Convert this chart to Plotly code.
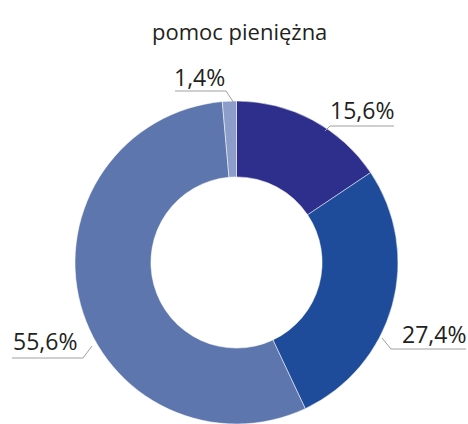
import plotly.graph_objects as go

categories = ["A", "B", "C", "D"]
values = [15.6, 27.4, 55.6, 1.4]
value_labels = ["15,6%", "27,4%", "55,6%", "1,4%"]
colors = ["#2E2E8C", "#1F4C9A", "#5E76AE", "#8B9DC8"]
title_text = "pomoc pieniężna"

W, H = 468, 424
cx, cy, R = 236.5, 262.5, 161.5

def px(x):
    return x / W

def py(y):
    return min(1.0, max(0.0, 1 - y / H))

fig = go.Figure(go.Pie(
    labels=categories, values=values, sort=False, direction="clockwise",
    rotation=0, hole=0.53, textinfo="none", hoverinfo="label+percent",
    marker=dict(colors=colors, line=dict(color="white", width=0.5)),
    domain=dict(x=[px(cx - R), px(cx + R)], y=[py(cy + R), py(cy - R)]),
))

# label layout: (text center x, text center y, underline x0, underline x1, underline y, leader end x, leader end y, leader start side)
label_layout = [
    (362, 110, 330, 394, 126, 325, 131, "left"),
    (434, 334, 391, 466, 349, 382, 338, "left"),
    (45, 341, 12, 83, 358, 92, 346, "right"),
    (199, 77, 175, 226, 91, 234, 103, "right"),
]

annotations = []
shapes = []
for txt, (tx, ty, ux0, ux1, uy, lx, ly, side) in zip(value_labels, label_layout):
    annotations.append(dict(
        x=px(tx), y=py(ty), xref="paper", yref="paper", text=txt, showarrow=False,
        font=dict(family="Open Sans", size=23, color="#231F20"),
        xanchor="center", yanchor="middle"))
    shapes.append(dict(type="line", xref="paper", yref="paper",
                       x0=px(ux0), x1=px(ux1), y0=py(uy), y1=py(uy),
                       line=dict(color="#A0A0A0", width=1)))
    sx = ux0 if side == "left" else ux1
    shapes.append(dict(type="line", xref="paper", yref="paper",
                       x0=px(sx), x1=px(lx), y0=py(uy), y1=py(ly),
                       line=dict(color="#A0A0A0", width=1)))

annotations.append(dict(
    x=px(240), y=py(31), xref="paper", yref="paper", text=title_text, showarrow=False,
    font=dict(family="Open Sans", size=22, color="#231F20"),
    xanchor="center", yanchor="middle"))

fig.update_layout(
    width=W, height=H, margin=dict(l=0, r=0, t=0, b=0),
    paper_bgcolor="white", plot_bgcolor="white", showlegend=False,
    annotations=annotations, shapes=shapes,
)

fig.write_html("out.html", config={"displayModeBar": False},
               post_script="document.body.style.margin='0';document.body.style.overflow='hidden';")
